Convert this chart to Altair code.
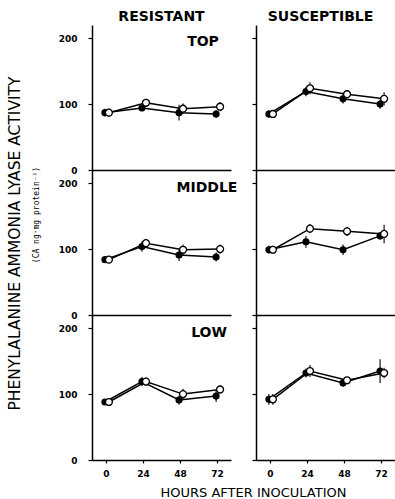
import altair as alt
import pandas as pd

hours = [0, 24, 48, 72]
cultivars = ["RESISTANT", "SUSCEPTIBLE"]
tissues = ["TOP", "MIDDLE", "LOW"]
y_title = "PHENYLALANINE AMMONIA LYASE ACTIVITY"
unit_label = "(CA ng\u00b7mg protein\u207b\u00b9)"
x_title = "HOURS AFTER INOCULATION"

# filled circles (inoculated) / open circles (control): means and error half-widths
res_top_filled = [87, 94, 87, 85]
res_top_filled_err = [6, 5, 12, 6]
res_top_open = [87, 102, 93, 96]
res_top_open_err = [6, 6, 8, 7]

sus_top_filled = [85, 119, 108, 100]
sus_top_filled_err = [6, 7, 7, 7]
sus_top_open = [85, 124, 115, 108]
sus_top_open_err = [6, 9, 5, 10]

res_mid_filled = [84, 104, 91, 88]
res_mid_filled_err = [5, 8, 9, 7]
res_mid_open = [84, 109, 99, 100]
res_mid_open_err = [5, 6, 8, 7]

sus_mid_filled = [99, 111, 99, 120]
sus_mid_filled_err = [6, 9, 8, 6]
sus_mid_open = [99, 131, 127, 123]
sus_mid_open_err = [6, 7, 7, 14]

res_low_filled = [88, 119, 91, 97]
res_low_filled_err = [4, 7, 7, 9]
res_low_open = [88, 119, 100, 107]
res_low_open_err = [4, 6, 8, 6]

sus_low_filled = [92, 132, 117, 135]
sus_low_filled_err = [8, 7, 6, 18]
sus_low_open = [92, 135, 121, 132]
sus_low_open_err = [8, 9, 5, 8]

series_data = {
    ("RESISTANT", "TOP"): (res_top_filled, res_top_filled_err, res_top_open, res_top_open_err),
    ("SUSCEPTIBLE", "TOP"): (sus_top_filled, sus_top_filled_err, sus_top_open, sus_top_open_err),
    ("RESISTANT", "MIDDLE"): (res_mid_filled, res_mid_filled_err, res_mid_open, res_mid_open_err),
    ("SUSCEPTIBLE", "MIDDLE"): (sus_mid_filled, sus_mid_filled_err, sus_mid_open, sus_mid_open_err),
    ("RESISTANT", "LOW"): (res_low_filled, res_low_filled_err, res_low_open, res_low_open_err),
    ("SUSCEPTIBLE", "LOW"): (sus_low_filled, sus_low_filled_err, sus_low_open, sus_low_open_err),
}

rows = []
for (cult, tis), (fv, fe, ov, oe) in series_data.items():
    for h, v, e in zip(hours, fv, fe):
        rows.append(dict(cultivar=cult, tissue=tis, series="Inoculated", hour=h, value=v, lo=v - e, hi=v + e))
    for h, v, e in zip(hours, ov, oe):
        rows.append(dict(cultivar=cult, tissue=tis, series="Control", hour=h, value=v, lo=v - e, hi=v + e))
df = pd.DataFrame(rows)

W, H = 139, 145
label_pos = {"TOP": (111, 17), "MIDDLE": (115, 17.5), "LOW": (117, 18)}


def panel(ci, ri):
    cult, tis = cultivars[ci], tissues[ri]
    sub = df[(df.cultivar == cult) & (df.tissue == tis)].reset_index(drop=True)
    bottom = ri == 2
    left = ci == 0

    xaxis_kw = dict(values=hours, grid=False, domainColor="black", domainWidth=1.5,
                    tickColor="black", tickWidth=1.2)
    if bottom:
        xaxis_kw.update(labels=True, ticks=True, tickSize=3, labelPadding=6,
                        labelFont="DejaVu Sans", labelFontSize=9, labelFontWeight="bold",
                        labelColor="black")
    else:
        xaxis_kw.update(labels=False, ticks=False)
    if bottom and left:
        xaxis_kw.update(title=x_title, titleFont="DejaVu Sans", titleFontSize=13,
                        titleFontWeight="normal", titleColor="black", titleX=161,
                        titleY=32, titleAlign="center", titleBaseline="middle")
    else:
        xaxis_kw.update(title=None)

    yaxis_kw = dict(values=[0, 100, 200], grid=False, domainColor="black", domainWidth=1.5,
                    tickColor="black", tickWidth=1.2, tickSize=4)
    if left:
        yaxis_kw.update(labels=True, labelPadding=11, labelFont="DejaVu Sans",
                        labelFontSize=9, labelFontWeight="bold", labelColor="black")
    else:
        yaxis_kw.update(labels=False)
    if left and ri == 1:
        yaxis_kw.update(title=y_title, titleFont="DejaVu Sans", titleFontSize=15.5,
                        titleFontWeight="normal", titleColor="black", titleAngle=270,
                        titleX=-78, titleY=73, titleAlign="center", titleBaseline="middle")
    else:
        yaxis_kw.update(title=None)

    xs = alt.Scale(domain=[-9, 81], nice=False, zero=False)
    ys = alt.Scale(domain=[0, 220], nice=False)
    X = alt.X("hour:Q", scale=xs, axis=alt.Axis(**xaxis_kw))

    layers = []
    for series, off, fill, size in [("Inoculated", -1, "black", 34), ("Control", 3, "white", 48)]:
        s = alt.Chart(sub).transform_filter(alt.datum.series == series)
        layers.append(s.mark_line(color="black", strokeWidth=1.5, xOffset=off).encode(
            x=X, y=alt.Y("value:Q", scale=ys, axis=alt.Axis(**yaxis_kw))))
        layers.append(s.mark_rule(color="black", strokeWidth=1.1, xOffset=off).encode(
            x=X, y=alt.Y("lo:Q", scale=ys, axis=alt.Axis(**yaxis_kw)), y2="hi:Q"))
        layers.append(s.mark_point(shape="circle", filled=True, fill=fill, stroke="black",
                                   strokeWidth=1.3, size=size, opacity=1, xOffset=off).encode(
            x=X, y=alt.Y("value:Q", scale=ys, axis=alt.Axis(**yaxis_kw))))

    if ci == 0:
        lx, ly = label_pos[tis]
        layers.append(alt.Chart(pd.DataFrame({"t": [tis]})).mark_text(
            font="DejaVu Sans", fontSize=14, fontWeight="bold", color="black",
            align="center", baseline="middle").encode(
            text="t:N", x=alt.value(lx), y=alt.value(ly)))
    if ci == 0 and ri == 1:
        layers.append(alt.Chart(pd.DataFrame({"t": [unit_label]})).mark_text(
            font="DejaVu Sans Mono", fontSize=8, color="black", angle=270,
            align="center", baseline="middle").encode(
            text="t:N", x=alt.value(-55), y=alt.value(45)))

    ch = alt.layer(*layers).properties(width=W, height=H)
    if ri == 0:
        ch = ch.properties(title=alt.TitleParams(
            cult, font="DejaVu Sans", fontSize=14, fontWeight="bold", color="black",
            anchor="middle", offset=1, dx=0 if ci == 0 else -5))
    return ch


panels = [panel(c, r) for r in range(3) for c in range(2)]
chart = alt.concat(*panels, columns=2, spacing={"row": 0, "column": 25}, bounds="flush").properties(
    padding={"left": 6, "top": 10, "right": 0, "bottom": 0},
    background="white",
).configure_view(stroke=None)

chart.save("out.html", embed_options={"renderer": "svg", "actions": False})
